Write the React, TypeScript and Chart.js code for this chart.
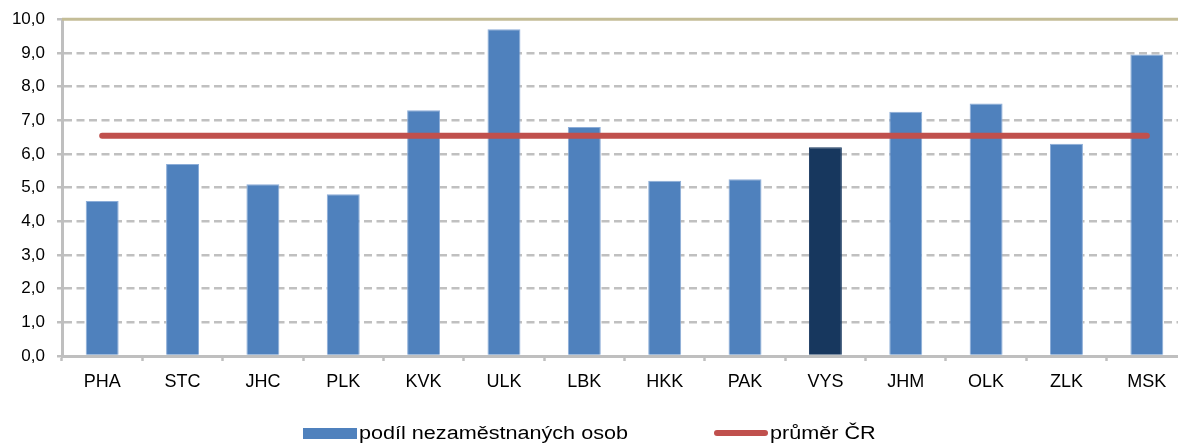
import React, { useEffect, useRef } from "react";
import { Chart, registerables } from "chart.js";

Chart.register(...registerables);

const categories = ["PHA", "STC", "JHC", "PLK", "KVK", "ULK", "LBK", "HKK", "PAK", "VYS", "JHM", "OLK", "ZLK", "MSK"];
const unemployedShare = [4.6, 5.7, 5.1, 4.8, 7.3, 9.7, 6.8, 5.2, 5.25, 6.2, 7.25, 7.5, 6.3, 8.95];
const crAverage = [6.54, 6.54, 6.54, 6.54, 6.54, 6.54, 6.54, 6.54, 6.54, 6.54, 6.54, 6.54, 6.54, 6.54];
const highlighted = "VYS";
const yTicks = [0, 1, 2, 3, 4, 5, 6, 7, 8, 9, 10];
const legendLabels = ["podíl nezaměstnaných osob", "průměr ČR"];

const FONT = "'Liberation Sans', Arial, sans-serif";

const topLinePlugin = {
  id: "topLine",
  afterDatasetsDraw(chart: any) {
    const { ctx, chartArea, scales } = chart;
    const y = scales.y.getPixelForValue(yTicks[yTicks.length - 1]);
    ctx.save();
    ctx.strokeStyle = "#c4bd97";
    ctx.lineWidth = 3;
    ctx.beginPath();
    ctx.moveTo(chartArea.left, y);
    ctx.lineTo(chartArea.right, y);
    ctx.stroke();
    ctx.restore();
  },
};

const legendTextStyle: React.CSSProperties = {
  display: "inline-block",
  transform: "scaleX(1.2)",
  transformOrigin: "left center",
};

export default function App() {
  const ref = useRef<HTMLCanvasElement>(null);
  useEffect(() => {
    document.body.style.overflow = "hidden";
    document.documentElement.style.overflow = "hidden";
    const chart = new Chart(ref.current!, {
      type: "bar",
      data: {
        labels: categories,
        datasets: [
          {
            type: "line",
            label: legendLabels[1],
            data: crAverage,
            borderColor: "#c0504d",
            backgroundColor: "#c0504d",
            borderWidth: 6,
            borderCapStyle: "round",
            pointRadius: 0,
            order: 0,
          } as any,
          {
            type: "bar",
            label: legendLabels[0],
            data: unemployedShare,
            backgroundColor: categories.map((c) => (c === highlighted ? "#17375e" : "#4f81bd")),
            borderColor: categories.map((c) => (c === highlighted ? "#17375e" : "#8cadd8")),
            borderWidth: 1,
            barPercentage: 0.41,
            categoryPercentage: 1,
            order: 1,
          },
        ],
      },
      options: {
        animation: false,
        responsive: true,
        maintainAspectRatio: false,
        layout: { padding: { left: 0, right: 0, top: 15, bottom: 0 } },
        plugins: { legend: { display: false }, tooltip: { enabled: false } },
        scales: {
          x: {
            offset: true,
            grid: {
              offset: true,
              drawOnChartArea: false,
              drawTicks: true,
              tickLength: 5,
              tickColor: "#bfbfbf",
              tickWidth: 2.5,
            },
            border: { display: true, color: "#bfbfbf", width: 3 },
            ticks: {
              color: "#000",
              font: { family: FONT, size: 18 },
              padding: 10,
              maxRotation: 0,
              autoSkip: false,
            },
            afterFit: (scale: any) => {
              scale.height = 90;
            },
          },
          y: {
            min: 0,
            max: 10,
            afterBuildTicks: (scale: any) => {
              scale.ticks = yTicks.map((v) => ({ value: v }));
            },
            grid: {
              color: (ctx: any) =>
                ctx.tick && (ctx.tick.value === 0 || ctx.tick.value === 10) ? "rgba(0,0,0,0)" : "#c0c0c0",
              lineWidth: 2.5,
              tickLength: 5,
              tickColor: "#bfbfbf",
              tickWidth: 2.5,
              tickBorderDash: [],
            },
            border: { display: true, color: "#bfbfbf", width: 3, dash: [8, 4.5] },
            ticks: {
              color: "#000",
              font: { family: FONT, size: 17 },
              padding: 12,
              callback: (v: any) => Number(v).toFixed(1).replace(".", ","),
            },
            afterFit: (scale: any) => {
              scale.width = 62;
            },
          },
        },
      },
      plugins: [topLinePlugin],
    });
    return () => chart.destroy();
  }, []);

  return (
    <div style={{ position: "fixed", left: 0, top: 0, width: 1187, height: 443, background: "#fff", overflow: "hidden" }}>
      <div style={{ position: "absolute", left: 0, top: -3, width: 1187, height: 449 }}>
        <canvas ref={ref} />
      </div>
      <div
        style={{
          position: "absolute",
          top: 423,
          left: 303,
          display: "flex",
          alignItems: "center",
          fontFamily: FONT,
          fontSize: 18,
          color: "#000",
          lineHeight: "20px",
          whiteSpace: "nowrap",
        }}
      >
        <span style={{ display: "inline-block", width: 54, height: 11, background: "#4f81bd", marginRight: 2 }} />
        <span style={legendTextStyle}>{legendLabels[0]}</span>
      </div>
      <div
        style={{
          position: "absolute",
          top: 423,
          left: 714,
          display: "flex",
          alignItems: "center",
          fontFamily: FONT,
          fontSize: 18,
          color: "#000",
          lineHeight: "20px",
          whiteSpace: "nowrap",
        }}
      >
        <span style={{ display: "inline-block", width: 54, height: 6, borderRadius: 3, background: "#c0504d", marginRight: 2 }} />
        <span style={legendTextStyle}>{legendLabels[1]}</span>
      </div>
    </div>
  );
}
